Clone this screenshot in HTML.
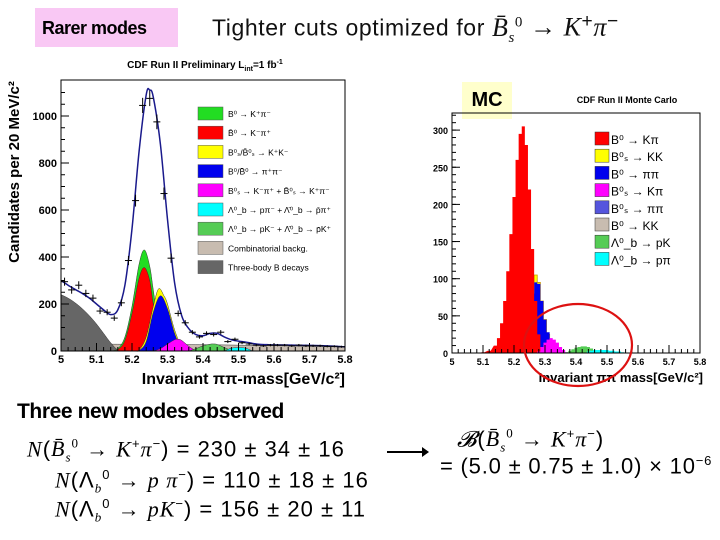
<!DOCTYPE html>
<html><head><meta charset="utf-8"><style>
body{margin:0;background:#fff;width:720px;height:540px;overflow:hidden;position:relative;font-family:"Liberation Sans",sans-serif}
.abs{position:absolute;white-space:nowrap}
.m{font-family:"Liberation Serif",serif;font-style:italic}
.eq{font-size:22px;letter-spacing:1px}
</style></head><body>
<div class="abs" style="left:35px;top:8px;width:143px;height:39px;background:#f9c8f4"></div>
<div class="abs" style="left:42px;top:18px;font-size:18px;font-weight:bold;letter-spacing:-0.5px">Rarer modes</div>
<div class="abs" style="left:212px;top:11px;font-size:23px;letter-spacing:0.6px;color:#111">Tighter cuts optimized for <span class="m" style="font-size:26px">B̄<sub style="font-size:15px">s</sub><sup style="font-size:15px;font-style:normal">0</sup></span> <span style="font-size:26px">→</span> <span class="m" style="font-size:26px">K</span><sup>+</sup><span class="m" style="font-size:26px">π</span><sup>−</sup></div>
<div class="abs" style="left:462px;top:82px;width:50px;height:37px;background:#ffffcc;font-size:20px;font-weight:bold;line-height:37px;text-align:center">MC</div>

<svg width="720" height="400" style="position:absolute;left:0;top:0" id="svg"></svg>

<div class="abs" style="left:17px;top:400px;font-size:21px;font-weight:bold;letter-spacing:-0.4px">Three new modes observed</div>
<div class="abs eq" style="left:27px;top:436px"><span class="m">N</span>(<span class="m">B̄<sub style="font-size:13px">s</sub><sup style="font-size:13px;font-style:normal">0</sup></span> → <span class="m">K</span><sup style="font-size:13px">+</sup><span class="m">π</span><sup style="font-size:13px">−</sup>) = 230 ± 34 ± 16</div>
<div class="abs eq" style="left:55px;top:467px"><span class="m">N</span>(Λ<sub style="font-size:13px" class="m">b</sub><sup style="font-size:13px">0</sup> → <span class="m">p π</span><sup style="font-size:13px">−</sup>) = 110 ± 18 ± 16</div>
<div class="abs eq" style="left:55px;top:496px"><span class="m">N</span>(Λ<sub style="font-size:13px" class="m">b</sub><sup style="font-size:13px">0</sup> → <span class="m">pK</span><sup style="font-size:13px">−</sup>) = 156 ± 20 ± 11</div>
<div class="abs" style="left:387px;top:451px;width:38px;height:2px;background:#000"></div>
<div class="abs" style="left:422px;top:447px;width:0;height:0;border-left:7px solid #000;border-top:5px solid transparent;border-bottom:5px solid transparent"></div>
<div class="abs eq" style="left:457px;top:426px"><span class="m">𝓑</span>(<span class="m">B̄<sub style="font-size:13px">s</sub><sup style="font-size:13px;font-style:normal">0</sup></span> → <span class="m">K</span><sup style="font-size:13px">+</sup><span class="m">π</span><sup style="font-size:13px">−</sup>)</div>
<div class="abs eq" style="left:440px;top:453px;letter-spacing:0.8px">= (5.0 ± 0.75 ± 1.0) × 10<sup style="font-size:13px">−6</sup></div>

<script>
// ---------- Left chart data ----------
const dataMass=[5.01,5.03,5.05,5.07,5.09,5.11,5.13,5.15,5.17,5.19,5.21,5.23,5.25,5.27,5.29,5.31,5.33,5.35,5.37,5.39,5.41,5.43,5.45,5.47,5.49,5.51,5.53,5.55,5.57,5.59,5.61,5.63,5.65,5.67,5.69,5.71,5.73,5.75,5.77,5.79];
const dataCounts=[295,260,280,245,225,170,165,140,205,385,640,1045,1075,975,670,395,160,120,80,60,75,70,80,40,50,35,30,25,22,25,25,25,22,25,22,22,22,20,20,18];
const fitMass=[5.0,5.02,5.04,5.06,5.08,5.1,5.12,5.14,5.16,5.18,5.2,5.22,5.24,5.25,5.26,5.28,5.3,5.32,5.34,5.36,5.38,5.4,5.42,5.44,5.46,5.48,5.5,5.52,5.54,5.56,5.58,5.6,5.65,5.7,5.75,5.8];
const fitCounts=[300,280,262,245,225,200,175,155,175,280,520,850,1090,1110,1080,880,560,290,150,95,70,65,75,75,60,48,42,38,32,28,27,26,25,24,22,18];
const combMass=[5.0,5.3,5.5,5.8];
const combCounts=[30,28,25,17];
const threeMass=[5.0,5.02,5.04,5.06,5.08,5.1,5.12,5.14,5.16,5.18];
const threeCounts=[240,225,205,180,150,115,75,35,5,0];
const kpiTotMass=[5.14,5.16,5.18,5.2,5.22,5.235,5.25,5.26,5.28,5.3,5.32];
const kpiTotCounts=[0,10,60,190,370,430,360,260,60,5,0];
const redMass=[5.14,5.16,5.18,5.2,5.22,5.235,5.25,5.26,5.28,5.3];
const redCounts=[0,6,45,160,310,355,300,200,40,0];
const kkMass=[5.2,5.22,5.24,5.26,5.275,5.29,5.3,5.32,5.34,5.36];
const kkCounts=[0,5,60,190,265,235,200,90,20,0];
const pipiMass=[5.21,5.22,5.24,5.26,5.28,5.3,5.32,5.34,5.36];
const pipiCounts=[0,2,40,165,235,180,75,10,0];
const bskpiMass=[5.26,5.28,5.3,5.32,5.33,5.34,5.36,5.38];
const bskpiCounts=[0,10,30,48,50,45,20,0];
const lbpkMass=[5.36,5.38,5.4,5.42,5.43,5.44,5.46,5.48,5.5];
const lbpkCounts=[0,10,22,29,30,28,15,3,0];
const lbppiMass=[5.46,5.48,5.5,5.52,5.54];
const lbppiCounts=[0,12,15,12,0];
const leftYTicks=[0,200,400,600,800,1000];
const xTicks=[5,5.1,5.2,5.3,5.4,5.5,5.6,5.7,5.8];
const leftLegend=["B⁰ → K⁺π⁻","B̄⁰ → K⁻π⁺","B⁰ₛ/B̄⁰ₛ → K⁺K⁻","B⁰/B̄⁰ → π⁺π⁻","B⁰ₛ → K⁻π⁺ + B̄⁰ₛ → K⁺π⁻","Λ⁰_b → pπ⁻ + Λ̄⁰_b → p̄π⁺","Λ⁰_b → pK⁻ + Λ̄⁰_b → p̄K⁺","Combinatorial backg.","Three-body B decays"];
const leftLegendColors=["#22dd22","#ff0000","#ffff00","#0000ee","#ff00ff","#00ffff","#55cc55","#c8bcb0","#666666"];
// ---------- Right chart data ----------
const mcRedMass=[5.1,5.12,5.14,5.15,5.16,5.17,5.18,5.19,5.2,5.21,5.22,5.23,5.24,5.25,5.26,5.27,5.28,5.29,5.3];
const mcRedCounts=[1,3,10,20,40,70,110,160,210,260,295,305,280,220,140,70,25,8,2];
const mcKKMass=[5.22,5.23,5.24,5.25,5.26,5.27,5.28,5.29,5.3,5.31,5.32,5.33,5.34];
const mcKKCounts=[3,12,30,60,95,105,95,70,45,25,12,5,1];
const mcPiPiMass=[5.23,5.24,5.25,5.26,5.27,5.28,5.29,5.3,5.31,5.32,5.33,5.34];
const mcPiPiCounts=[8,20,50,80,95,93,70,45,28,15,6,2];
const mcKpiMass=[5.28,5.29,5.3,5.31,5.32,5.33,5.34,5.35,5.36,5.37];
const mcKpiCounts=[2,8,14,18,20,18,14,8,4,1];
const mcPKMass=[5.37,5.38,5.39,5.4,5.41,5.42,5.43,5.44,5.45,5.46,5.47,5.48];
const mcPKCounts=[1,3,5,7,8,9,9,8,6,4,3,2];
const mcPPiMass=[5.44,5.45,5.46,5.47,5.48,5.49,5.5,5.51,5.52,5.53,5.54,5.55];
const mcPPiCounts=[2,3,4,4,4,4,4,3,3,2,2,1];
const rightYTicks=[0,50,100,150,200,250,300];
const rightLegend=["B⁰ → Kπ","B⁰ₛ → KK","B⁰ → ππ","B⁰ₛ → Kπ","B⁰ₛ → ππ","B⁰ → KK","Λ⁰_b → pK","Λ⁰_b → pπ"];
const rightLegendColors=["#ff0000","#ffff00","#0000ee","#ff00ff","#5555dd","#c8bcb0","#55cc55","#00ffff"];

const NS="http://www.w3.org/2000/svg";
const svg=document.getElementById('svg');
function mk(tag,attrs,parent){const e=document.createElementNS(NS,tag);for(const k in attrs)e.setAttribute(k,attrs[k]);(parent||svg).appendChild(e);return e;}
const lx=m=>61+(m-5)*355;
const ly=v=>351-v*0.235;
const rx=m=>452+(m-5)*310;
const ry=v=>353-v*0.743;

function smoothPath(xs,ys,X,Y){
  const p=xs.map((x,i)=>[X(x),Y(ys[i])]);
  let d=`M${p[0][0]},${p[0][1]}`;
  for(let i=0;i<p.length-1;i++){
    const p0=p[Math.max(0,i-1)],p1=p[i],p2=p[i+1],p3=p[Math.min(p.length-1,i+2)];
    d+=` C${p1[0]+(p2[0]-p0[0])/6},${p1[1]+(p2[1]-p0[1])/6} ${p2[0]-(p3[0]-p1[0])/6},${p2[1]-(p3[1]-p1[1])/6} ${p2[0]},${p2[1]}`;
  }
  return d;
}
function leftArea(xs,ys,fill,name){
  const d=smoothPath(xs,ys,lx,ly)+` L${lx(xs[xs.length-1])},${ly(0)} L${lx(xs[0])},${ly(0)} Z`;
  const e=mk('path',{d,fill,stroke:'#333','stroke-width':0.5});
  
  
}
function stepArea(xs,ys,fill,name){
  const w=0.01;let d=`M${rx(xs[0]-w/2)},${ry(0)}`;
  xs.forEach((x,i)=>{d+=` L${rx(x-w/2)},${ry(ys[i])} L${rx(x+w/2)},${ry(ys[i])}`;});
  d+=` L${rx(xs[xs.length-1]+w/2)},${ry(0)} Z`;
  const e=mk('path',{d,fill,stroke:fill==='#ffff00'?'#cc9900':'none','stroke-width':0.8});
  
  
}
function axes(X,Y,x0,x1,ytop,yTicks,minorY,fs,name){
  const g=mk('g',{});
  
  
  mk('rect',{x:X(5),y:ytop,width:X(5.8)-X(5),height:Y(0)-ytop,fill:'none',stroke:'#000','stroke-width':1},g);
  for(let m=5;m<=5.8001;m+=0.02){const big=Math.abs(m*10-Math.round(m*10))<0.01;mk('line',{x1:X(m),x2:X(m),y1:Y(0),y2:Y(0)-(big?8:4),stroke:'#000'},g);}
  xTicks.forEach(t=>{const e=mk('text',{x:X(t),y:Y(0)+12,'font-size':fs,'font-weight':'bold','text-anchor':'middle'},g);e.textContent=String(t);});
  yTicks.forEach(t=>{mk('line',{x1:X(5),x2:X(5)+8,y1:Y(t),y2:Y(t),stroke:'#000'},g);const e=mk('text',{x:X(5)-4,y:Y(t)+4,'font-size':fs,'font-weight':'bold','text-anchor':'end'},g);e.textContent=String(t);});
  for(let v=0;v<=yTicks[yTicks.length-1]+minorY*2;v+=minorY){if(Y(v)>ytop)mk('line',{x1:X(5),x2:X(5)+4,y1:Y(v),y2:Y(v),stroke:'#000'},g);}
}
leftArea(combMass,combCounts,'#c8bcb0','combinatorial-area');
leftArea(threeMass,threeCounts,'#666666','three-body-area');
leftArea(kpiTotMass,kpiTotCounts,'#22dd22','b0-kpi-area');
leftArea(redMass,redCounts,'#ff0000','b0bar-kpi-area');
leftArea(kkMass,kkCounts,'#ffff00','bs-kk-area');
leftArea(pipiMass,pipiCounts,'#0000ee','b-pipi-area');
leftArea(bskpiMass,bskpiCounts,'#ff00ff','bs-kpi-area');
leftArea(lbpkMass,lbpkCounts,'#55cc55','lb-pk-area');
leftArea(lbppiMass,lbppiCounts,'#00ffff','lb-ppi-area');
{const e=mk('path',{d:smoothPath(fitMass,fitCounts,lx,ly),fill:'none',stroke:'#1a1a8c','stroke-width':1.5});

}
dataMass.forEach((m,i)=>{
  const g=mk('g',{stroke:'#000','stroke-width':1});
  
  
  const x=lx(m),y=ly(dataCounts[i]),e=Math.sqrt(dataCounts[i])*0.235;
  mk('line',{x1:x-3.5,x2:x+3.5,y1:y,y2:y},g);mk('line',{x1:x,x2:x,y1:y-e,y2:y+e},g);
});
axes(lx,ly,5,5.8,80,leftYTicks,50,11,'left-axes');
{const t=mk('text',{x:205,y:68,'font-size':10,'font-weight':'bold','text-anchor':'middle'});t.textContent='CDF Run II  Preliminary L';

const s=mk('tspan',{'font-size':7,dy:3},t);s.textContent='int';const s2=mk('tspan',{dy:-3},t);s2.textContent='=1 fb';const s3=mk('tspan',{'font-size':7,dy:-4},t);s3.textContent='-1';}
{const t=mk('text',{x:0,y:0,'font-size':15,'font-weight':'bold','text-anchor':'middle',transform:'translate(19,172) rotate(-90)'});t.textContent='Candidates per 20 MeV/c²';
}
{const t=mk('text',{x:345,y:384,'font-size':16,'font-weight':'bold','text-anchor':'end'});t.textContent='Invariant ππ-mass[GeV/c²]';
}
leftLegend.forEach((l,i)=>{
  const y=107+i*19.2;
  const r=mk('rect',{x:198,y:y,width:25,height:13,fill:leftLegendColors[i],stroke:'#555','stroke-width':0.5});
  
  
  const t=mk('text',{x:228,y:y+10,'font-size':8.5});t.textContent=l;
  
  
});
stepArea(mcKKMass,mcKKCounts,'#ffff00','mc-bs-kk');
stepArea(mcPiPiMass,mcPiPiCounts,'#0000ee','mc-b-pipi');
stepArea(mcRedMass,mcRedCounts,'#ff0000','mc-b0-kpi');
stepArea(mcKpiMass,mcKpiCounts,'#ff00ff','mc-bs-kpi');
stepArea(mcPKMass,mcPKCounts,'#55cc55','mc-lb-pk');
stepArea(mcPPiMass,mcPPiCounts,'#00ffff','mc-lb-ppi');
axes(rx,ry,5,5.8,113,rightYTicks,10,9,'right-axes');
{const t=mk('text',{x:627,y:103,'font-size':9,'font-weight':'bold','text-anchor':'middle'});t.textContent='CDF Run II Monte Carlo';
}
{const t=mk('text',{x:703,y:382,'font-size':13,'font-weight':'bold','text-anchor':'end'});t.textContent='Invariant ππ mass[GeV/c²]';
}
rightLegend.forEach((l,i)=>{
  const y=132+i*17.2;
  const r=mk('rect',{x:595,y:y,width:14,height:13,fill:rightLegendColors[i],stroke:'#333','stroke-width':0.5});
  
  
  const t=mk('text',{x:611,y:y+12,'font-size':12});t.textContent=l;
  
  
});
{const e=mk('ellipse',{cx:578,cy:345,rx:54,ry:41,fill:'none',stroke:'#dd1111','stroke-width':2.2});
}
</script>
</body></html>
